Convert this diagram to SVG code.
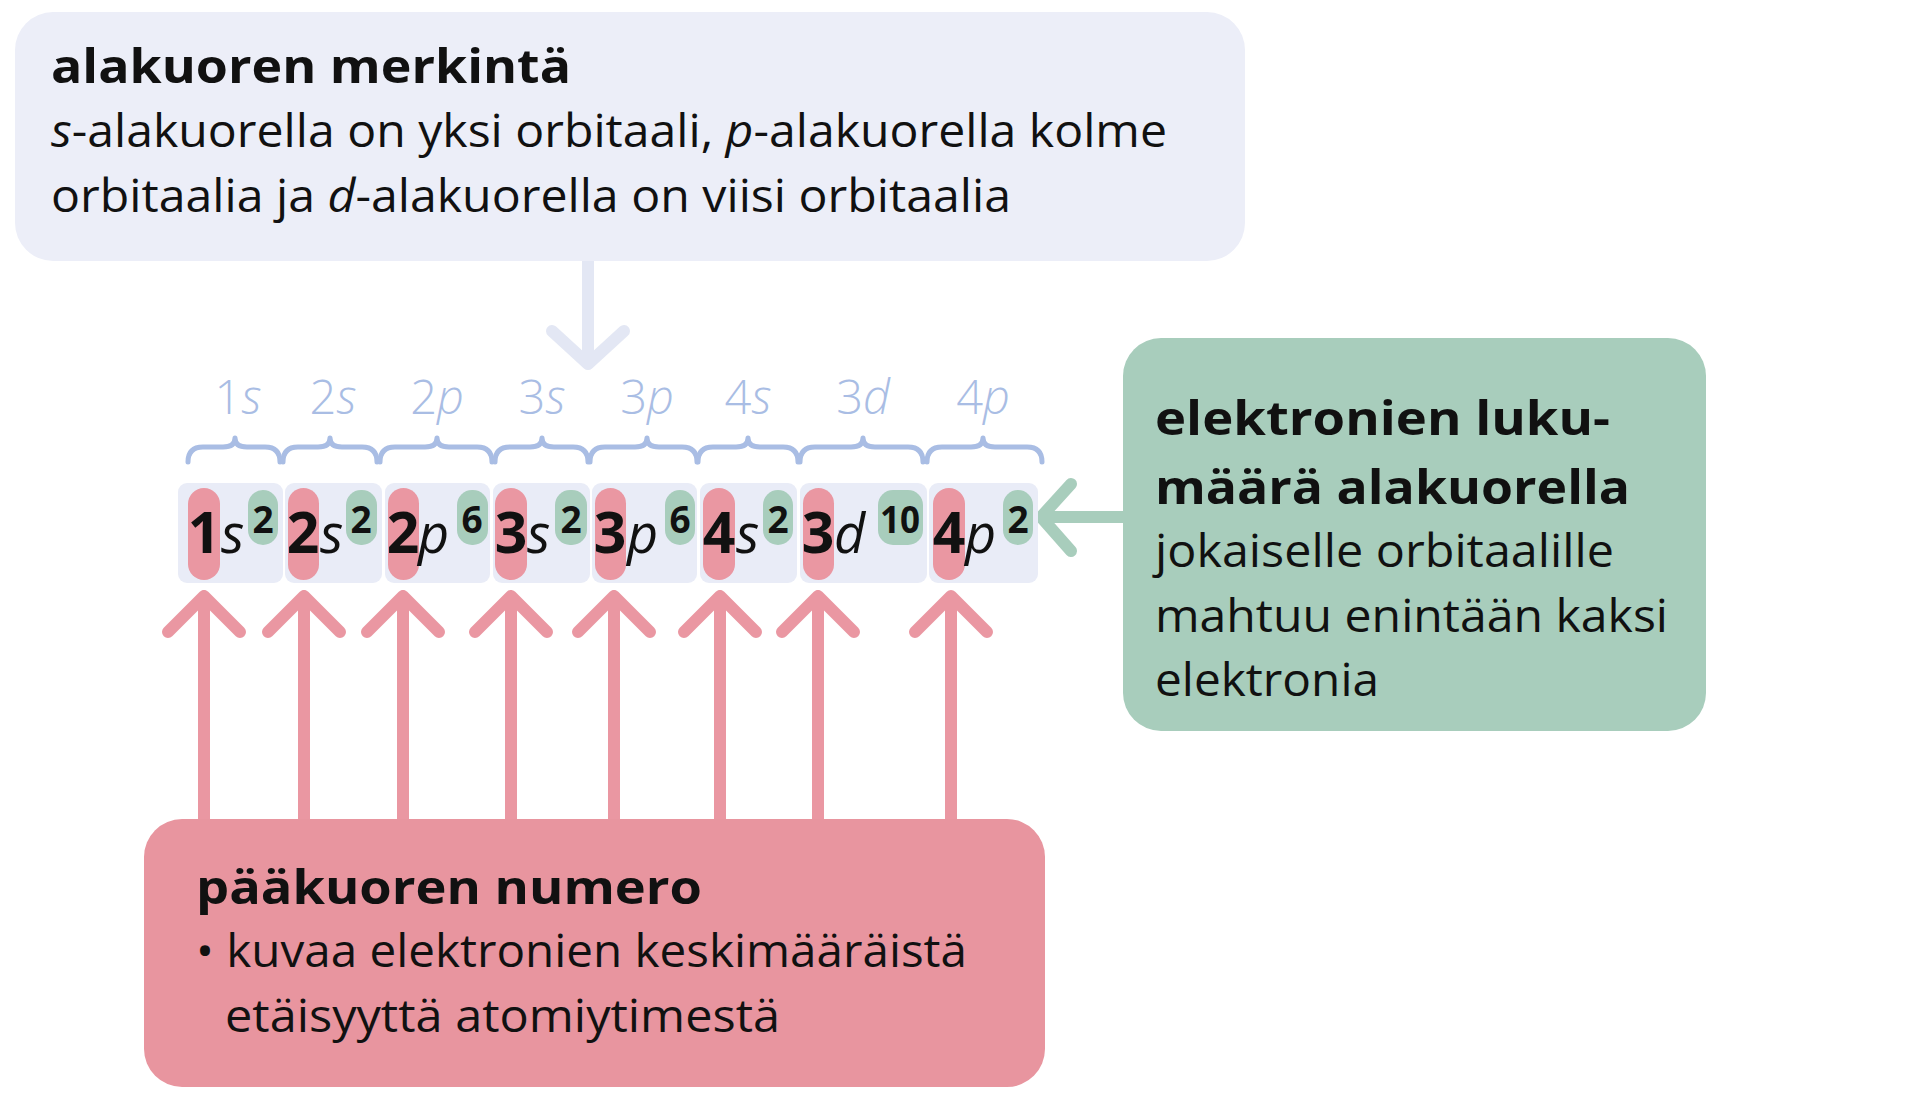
<svg xmlns="http://www.w3.org/2000/svg" width="1920" height="1106" viewBox="0 0 1920 1106">
<style>
text{font-family:"Open Sans","Noto Sans","Liberation Sans",sans-serif;fill:#111}
.b{font-weight:700}
.i{font-style:italic}
.lbl{font-weight:300;fill:#A9BDE4;font-size:47px;text-anchor:middle}
.brace{fill:none;stroke:#A9BDE4;stroke-width:5;stroke-linecap:round;stroke-linejoin:round}
.cell{fill:#E9ECF7}
.red{fill:#EA97A2}
.grn{fill:#A8CDBC}
.dig{font-weight:700;font-size:57px;text-anchor:middle}
.let{font-style:italic;font-size:54px}
.sup{font-weight:700;font-size:37px;text-anchor:middle}
.ra{fill:none;stroke:#EA97A2;stroke-width:12;stroke-linecap:round;stroke-linejoin:round}
.ga{fill:none;stroke:#A8CDBC;stroke-width:12;stroke-linecap:round;stroke-linejoin:round}
.la{fill:none;stroke:#E3E7F4;stroke-width:12;stroke-linecap:round;stroke-linejoin:round}
</style>
<rect width="1920" height="1106" fill="#fff"/>
<g id="connectors">
<path class="la" d="M588 261 V360 M552 331 L588 364 L624 331"/>
<path class="ga" d="M1123 517 H1045 M1071 484 L1041 517 L1071 551"/>
<g class="ra">
<path d="M204 820 V596 M168 632 L204 596 L240 632"/>
<path d="M304 820 V596 M268 632 L304 596 L340 632"/>
<path d="M403 820 V596 M367 632 L403 596 L439 632"/>
<path d="M511 820 V596 M475 632 L511 596 L547 632"/>
<path d="M614 820 V596 M578 632 L614 596 L650 632"/>
<path d="M720 820 V596 M684 632 L720 596 L756 632"/>
<path d="M818 820 V596 M782 632 L818 596 L854 632"/>
<path d="M951 820 V596 M915 632 L951 596 L987 632"/>
</g>
</g>
<g id="node-top">
<rect x="15" y="12" width="1230" height="249" rx="38" fill="#ECEEF8"/>
<text x="51" y="83" class="b" font-size="46" textLength="520" lengthAdjust="spacingAndGlyphs">alakuoren merkintä</text>
<text x="51" y="147" font-size="45" textLength="1116" lengthAdjust="spacingAndGlyphs"><tspan class="i">s</tspan>-alakuorella on yksi orbitaali, <tspan class="i">p</tspan>-alakuorella kolme</text>
<text x="51" y="212" font-size="45" textLength="960" lengthAdjust="spacingAndGlyphs">orbitaalia ja <tspan class="i">d</tspan>-alakuorella on viisi orbitaalia</text>
</g>
<g id="subshell-labels">
<text class="lbl" x="238" y="414">1<tspan class="i">s</tspan></text>
<text class="lbl" x="333" y="414">2<tspan class="i">s</tspan></text>
<text class="lbl" x="437" y="414">2<tspan class="i">p</tspan></text>
<text class="lbl" x="542" y="414">3<tspan class="i">s</tspan></text>
<text class="lbl" x="647" y="414">3<tspan class="i">p</tspan></text>
<text class="lbl" x="748" y="414">4<tspan class="i">s</tspan></text>
<text class="lbl" x="863" y="414">3<tspan class="i">d</tspan></text>
<text class="lbl" x="983" y="414">4<tspan class="i">p</tspan></text>
<path class="brace" d="M188 462 Q188 447 203 447 L223 447 Q235 447 235 438 Q235 447 247 447 L265 447 Q280 447 280 462"/>
<path class="brace" d="M283 462 Q283 447 298 447 L318 447 Q330 447 330 438 Q330 447 342 447 L362 447 Q377 447 377 462"/>
<path class="brace" d="M380 462 Q380 447 395 447 L425 447 Q437 447 437 438 Q437 447 449 447 L477 447 Q492 447 492 462"/>
<path class="brace" d="M495 462 Q495 447 510 447 L530 447 Q542 447 542 438 Q542 447 554 447 L573 447 Q588 447 588 462"/>
<path class="brace" d="M590 462 Q590 447 605 447 L635 447 Q647 447 647 438 Q647 447 659 447 L682 447 Q697 447 697 462"/>
<path class="brace" d="M698 462 Q698 447 713 447 L736 447 Q748 447 748 438 Q748 447 760 447 L783 447 Q798 447 798 462"/>
<path class="brace" d="M800 462 Q800 447 815 447 L851 447 Q863 447 863 438 Q863 447 875 447 L908 447 Q923 447 923 462"/>
<path class="brace" d="M927 462 Q927 447 942 447 L971 447 Q983 447 983 438 Q983 447 995 447 L1027 447 Q1042 447 1042 462"/>
</g>
<g id="configuration">
<rect class="cell" x="178" y="483" width="105" height="100" rx="9"/>
<rect class="cell" x="285" y="483" width="97" height="100" rx="9"/>
<rect class="cell" x="385" y="483" width="105" height="100" rx="9"/>
<rect class="cell" x="493" y="483" width="97" height="100" rx="9"/>
<rect class="cell" x="592" y="483" width="105" height="100" rx="9"/>
<rect class="cell" x="700" y="483" width="97" height="100" rx="9"/>
<rect class="cell" x="800" y="483" width="127" height="100" rx="9"/>
<rect class="cell" x="929" y="483" width="109" height="100" rx="9"/>
<rect class="red" x="188" y="488" width="32" height="92" rx="16"/>
<rect class="red" x="288" y="488" width="31" height="92" rx="15.5"/>
<rect class="red" x="388" y="488" width="31" height="92" rx="15.5"/>
<rect class="red" x="495" y="488" width="32" height="92" rx="16"/>
<rect class="red" x="595" y="488" width="31" height="92" rx="15.5"/>
<rect class="red" x="703" y="488" width="32" height="92" rx="16"/>
<rect class="red" x="803" y="488" width="31" height="92" rx="15.5"/>
<rect class="red" x="933" y="488" width="32" height="92" rx="16"/>
<rect class="grn" x="248" y="490" width="30" height="55" rx="15"/>
<rect class="grn" x="346" y="490" width="31" height="55" rx="15"/>
<rect class="grn" x="457" y="490" width="31" height="55" rx="15"/>
<rect class="grn" x="555" y="490" width="32" height="55" rx="15"/>
<rect class="grn" x="665" y="490" width="30" height="55" rx="15"/>
<rect class="grn" x="763" y="490" width="30" height="55" rx="15"/>
<rect class="grn" x="878" y="490" width="45" height="55" rx="15"/>
<rect class="grn" x="1003" y="490" width="30" height="55" rx="15"/>
<text class="dig" x="204" y="553">1</text><text class="let" x="221" y="553">s</text><text class="sup" x="263" y="533">2</text>
<text class="dig" x="303" y="553">2</text><text class="let" x="320" y="553">s</text><text class="sup" x="361" y="533">2</text>
<text class="dig" x="403" y="553">2</text><text class="let" x="418" y="553">p</text><text class="sup" x="472" y="533">6</text>
<text class="dig" x="511" y="553">3</text><text class="let" x="527" y="553">s</text><text class="sup" x="571" y="533">2</text>
<text class="dig" x="610" y="553">3</text><text class="let" x="627" y="553">p</text><text class="sup" x="680" y="533">6</text>
<text class="dig" x="719" y="553">4</text><text class="let" x="736" y="553">s</text><text class="sup" x="778" y="533">2</text>
<text class="dig" x="818" y="553">3</text><text class="let" x="834" y="553">d</text><text class="sup" x="900" y="533" textLength="40" lengthAdjust="spacingAndGlyphs">10</text>
<text class="dig" x="949" y="553">4</text><text class="let" x="965" y="553">p</text><text class="sup" x="1018" y="533">2</text>
</g>
<g id="node-green">
<rect x="1123" y="338" width="583" height="393" rx="38" fill="#A8CDBC"/>
<text x="1155" y="435" class="b" font-size="46" textLength="455" lengthAdjust="spacingAndGlyphs">elektronien luku-</text>
<text x="1155" y="504" class="b" font-size="46" textLength="475" lengthAdjust="spacingAndGlyphs">määrä alakuorella</text>
<text x="1155" y="567" font-size="45" textLength="459" lengthAdjust="spacingAndGlyphs">jokaiselle orbitaalille</text>
<text x="1155" y="632" font-size="45" textLength="513" lengthAdjust="spacingAndGlyphs">mahtuu enintään kaksi</text>
<text x="1155" y="696" font-size="45" textLength="224" lengthAdjust="spacingAndGlyphs">elektronia</text>
</g>
<g id="node-red">
<rect x="144" y="819" width="901" height="268" rx="38" fill="#E8959F"/>
<text x="196" y="904" class="b" font-size="46" textLength="506" lengthAdjust="spacingAndGlyphs">pääkuoren numero</text>
<text x="196" y="967" font-size="45" textLength="771" lengthAdjust="spacingAndGlyphs">• kuvaa elektronien keskimääräistä</text>
<text x="225" y="1032" font-size="45" textLength="555" lengthAdjust="spacingAndGlyphs">etäisyyttä atomiytimestä</text>
</g>
</svg>
